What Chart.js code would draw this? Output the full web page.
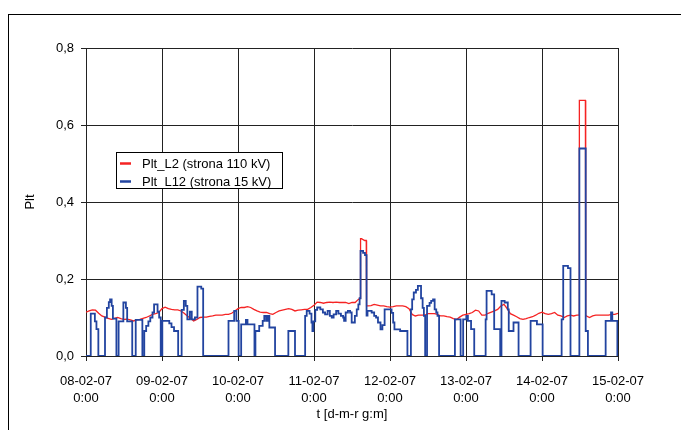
<!DOCTYPE html>
<html lang="pl">
<head>
<meta charset="utf-8">
<title>Plt</title>
<script src="https://cdn.jsdelivr.net/npm/chart.js"></script>
<style>
  html, body { margin: 0; padding: 0; background: #fff; }
  #wrap { position: relative; width: 681px; height: 430px; overflow: hidden; }
  #frame { position: absolute; left: 8px; top: 14px; width: 700px; height: 500px; border: 1px solid #000; }
  canvas { position: absolute; left: 0; top: 0; }
</style>
</head>
<body>
<div id="wrap">
  <div id="frame"></div>
  <canvas id="my-chart" width="681" height="430"></canvas>
</div>
<script>
'use strict';

// ******** DATA **************
let seriesNames = ['Plt_L2 (strona 110 kV)', 'Plt_L12 (strona 15 kV)'];

let dayLabels = ['08-02-07', '09-02-07', '10-02-07', '11-02-07', '12-02-07', '13-02-07', '14-02-07', '15-02-07'];
let dayTicks = [0, 24, 48, 72, 96, 120, 144, 168];
let hourLabel = '0:00';

let yTicks = [0, 0.2, 0.4, 0.6, 0.8];
let yTickLabels = ['0,0', '0,2', '0,4', '0,6', '0,8'];

let xTitle = 't [d-m-r g:m]';
let yTitle = 'Plt';

// Plt_L2 - one reading per hour, from 08-02-07 0:00
let pltL2 = [
  0.114, 0.117, 0.120, 0.119, 0.111, 0.104, 0.101, 0.098, 0.095, 0.098, 0.100, 0.097,
  0.095, 0.096, 0.094, 0.091, 0.094, 0.095, 0.098, 0.100, 0.104, 0.108, 0.110, 0.113,
  0.123, 0.127, 0.123, 0.121, 0.120, 0.120, 0.117, 0.111, 0.104, 0.098, 0.091, 0.095,
  0.100, 0.101, 0.101, 0.103, 0.104, 0.106, 0.106, 0.106, 0.108, 0.108, 0.111, 0.117,
  0.123, 0.126, 0.126, 0.128, 0.126, 0.121, 0.117, 0.114, 0.113, 0.113, 0.110, 0.108,
  0.113, 0.117, 0.119, 0.121, 0.123, 0.121, 0.117, 0.119, 0.120, 0.121, 0.121, 0.126,
  0.132, 0.140, 0.139, 0.137, 0.139, 0.140, 0.139, 0.140, 0.139, 0.139, 0.139, 0.136,
  0.139, 0.139, 0.147, 0.305, 0.300, 0.130, 0.131, 0.134, 0.132, 0.130, 0.130, 0.128,
  0.127, 0.128, 0.130, 0.130, 0.130, 0.128, 0.123, 0.108, 0.104, 0.106, 0.106, 0.106,
  0.110, 0.110, 0.110, 0.108, 0.104, 0.104, 0.102, 0.101, 0.097, 0.095, 0.101, 0.106,
  0.108, 0.110, 0.113, 0.119, 0.117, 0.106, 0.106, 0.111, 0.114, 0.117, 0.121, 0.130,
  0.134, 0.123, 0.110, 0.106, 0.102, 0.097, 0.095, 0.097, 0.100, 0.102, 0.106, 0.111,
  0.114, 0.110, 0.108, 0.110, 0.113, 0.106, 0.104, 0.100, 0.104, 0.106, 0.104, 0.106,
  0.664, 0.664, 0.104, 0.100, 0.104, 0.106, 0.106, 0.106, 0.106, 0.106, 0.108, 0.108,
  0.111
];
// Plt_L2 readings at the edges of the two peaks
let pltL2EdgeHours = [86.6, 86.7, 88.5, 88.6, 155.7, 155.8, 157.7, 157.8];
let pltL2EdgeValues = [0.150, 0.305, 0.300, 0.130, 0.106, 0.664, 0.664, 0.104];

// Plt_L12 - step values, each one holds from its hour until the next one
let pltL12Hours = [
  0, 1.5, 2.8, 3.3, 3.9, 6.0, 6.6, 7.2, 7.6, 8.1, 8.5, 9.6,
  10.3, 11.8, 12.6, 13.0, 14.6, 15.7, 17.8, 18.4, 19.0, 19.7, 20.3, 21.0,
  21.5, 22.6, 23.1, 23.6, 24.1, 26.3, 27.0, 27.8, 29.1, 30.2, 30.9, 31.5,
  32.0, 32.8, 33.4, 34.4, 35.2, 36.4, 37.0, 45.0, 46.8, 47.5, 48.2, 49.0,
  50.5, 51.0, 53.2, 53.5, 54.7, 55.8, 56.3, 56.9, 57.4, 57.9, 59.7, 63.9,
  66.0, 69.2, 69.7, 70.6, 71.2, 71.5, 71.8, 72.4, 73.0, 74.0, 74.8, 75.5,
  76.3, 77.0, 77.6, 78.2, 79.0, 79.7, 80.5, 81.2, 81.5, 82.0, 82.7, 83.4,
  83.9, 84.9, 85.5, 86.0, 86.4, 86.7, 87.5, 88.1, 88.6, 88.9, 90.2, 91.0,
  91.6, 92.2, 93.0, 93.6, 94.3, 96.5, 97.0, 97.4, 99.2, 101.5, 102.6, 103.0,
  103.5, 104.2, 104.8, 105.8, 106.3, 106.7, 107.1, 107.7, 108.5, 109.0, 109.6, 110.1,
  110.6, 111.0, 111.5, 116.5, 118.3, 119.1, 120.1, 120.6, 121.6, 122.6, 126.2, 126.5,
  128.1, 128.9, 130.8, 131.2, 132.2, 133.2, 133.5, 135.0, 136.6, 140.4, 142.4, 144.2,
  150.2, 150.7, 152.2, 153.0, 155.8, 157.8, 158.5, 164.1, 165.8, 166.2, 167.8, 168
];
let pltL12 = [
  0, 0.110, 0.090, 0.070, 0, 0.100, 0.125, 0.140, 0.147, 0.130, 0.097, 0,
  0.090, 0.139, 0.125, 0.090, 0, 0.094, 0, 0.065, 0.078, 0.090, 0.100, 0.113,
  0.134, 0.115, 0.100, 0, 0.091, 0.085, 0.075, 0.065, 0, 0.120, 0.143, 0.130,
  0.095, 0.115, 0.095, 0.100, 0.180, 0.175, 0, 0.091, 0.117, 0.091, 0, 0.082,
  0.094, 0.082, 0, 0.065, 0.078, 0.091, 0.104, 0.091, 0.104, 0.074, 0, 0.065,
  0, 0.104, 0.117, 0.110, 0.087, 0.065, 0.090, 0.120, 0.126, 0.121, 0.113, 0.108,
  0.117, 0.104, 0.100, 0.108, 0.117, 0.110, 0.104, 0.100, 0.091, 0.113, 0.117, 0.113,
  0.087, 0.104, 0.121, 0.134, 0.150, 0.273, 0.268, 0.262, 0.105, 0.117, 0.113, 0.104,
  0.100, 0.087, 0.069, 0.080, 0.121, 0.112, 0.087, 0.069, 0.065, 0, 0.121, 0.147,
  0.165, 0.172, 0.182, 0.150, 0.125, 0.104, 0, 0.130, 0.138, 0.143, 0.147, 0.121,
  0.113, 0.104, 0, 0.095, 0, 0.095, 0.104, 0.091, 0.070, 0, 0.095, 0.169,
  0.160, 0.070, 0, 0.143, 0.139, 0.121, 0.065, 0.087, 0, 0.091, 0.082, 0,
  0.095, 0.234, 0.228, 0, 0.539, 0.065, 0, 0.091, 0.113, 0.091, 0, 0
];

// ********* STYLE **************
let fontFamily = '"Liberation Sans", Arial, sans-serif';
let redColor = '#f52323';
let blueColor = '#2244a0';

Chart.defaults.font.family = fontFamily;
Chart.defaults.font.size = 13;
Chart.defaults.color = '#000';

// *********** HELPERS ***************
let redPoints = pltL2.map((v, i) => ({ x: i, y: v }));
for (let i = 0; i < pltL2EdgeHours.length; i++) {
  redPoints.push({ x: pltL2EdgeHours[i], y: pltL2EdgeValues[i] });
}
redPoints.sort((a, b) => a.x - b.x);

let bluePoints = pltL12.map((v, i) => ({ x: pltL12Hours[i], y: v }));

// legend box sitting inside the plot
let legendBox = {
  id: 'legendBox',
  afterDatasetsDraw(chart) {
    let ctx = chart.ctx;
    ctx.save();
    ctx.fillStyle = '#fff';
    ctx.fillRect(117, 153, 166, 36);
    ctx.strokeStyle = '#000';
    ctx.lineWidth = 1;
    ctx.strokeRect(116.5, 152.5, 166, 36);

    ctx.font = '13px ' + fontFamily;
    ctx.textBaseline = 'middle';
    chart.data.datasets.forEach((ds, i) => {
      let y = 163.5 + i * 18;
      ctx.strokeStyle = ds.borderColor;
      ctx.lineWidth = 2.5;
      ctx.beginPath();
      ctx.moveTo(120, y);
      ctx.lineTo(131, y);
      ctx.stroke();
      ctx.fillStyle = '#000';
      ctx.fillText(ds.label, 142, y + 0.5);
    });
    ctx.restore();
  }
};

// ************** CHART ************************
let canvasElem = document.getElementById('my-chart');

let gridOpts = { color: '#222', lineWidth: 1, tickLength: 5, drawTicks: true };

let myObj = {
  type: 'line',
  data: {
    datasets: [{
      label: seriesNames[0],
      data: redPoints,
      borderColor: redColor,
      borderWidth: 1.3,
      pointRadius: 0,
      tension: 0,
      order: 2
    },
    {
      label: seriesNames[1],
      data: bluePoints,
      borderColor: blueColor,
      borderWidth: 1.8,
      pointRadius: 0,
      stepped: true,
      order: 1
    }]
  },
  options: {
    responsive: false,
    animation: false,
    events: [],
    layout: { padding: { top: 48, right: 63, left: 0, bottom: 0 } },
    plugins: {
      legend: { display: false },
      tooltip: { enabled: false }
    },
    scales: {
      x: {
        type: 'linear',
        min: dayTicks[0],
        max: dayTicks[dayTicks.length - 1],
        afterFit: (scale) => { scale.height = 74; },
        afterBuildTicks: (scale) => { scale.ticks = dayTicks.map(v => ({ value: v })); },
        ticks: {
          autoSkip: false,
          maxRotation: 0,
          padding: 12,
          font: { size: 13, lineHeight: 1.3 },
          callback: (v, i) => [dayLabels[i], hourLabel]
        },
        grid: gridOpts,
        border: { color: '#222' },
        title: { display: true, text: xTitle, font: { size: 13 }, padding: { top: 0, bottom: 8 } }
      },
      y: {
        min: yTicks[0],
        max: yTicks[yTicks.length - 1],
        afterFit: (scale) => { scale.width = 86; },
        afterBuildTicks: (scale) => { scale.ticks = yTicks.map(v => ({ value: v })); },
        ticks: {
          padding: 7,
          font: { size: 13 },
          callback: (v, i) => yTickLabels[i]
        },
        grid: gridOpts,
        border: { color: '#222' },
        title: { display: true, text: yTitle, font: { size: 13 }, padding: { top: 23, bottom: 0 } }
      }
    }
  },
  plugins: [legendBox]
};

new Chart(canvasElem, myObj);
</script>
</body>
</html>
